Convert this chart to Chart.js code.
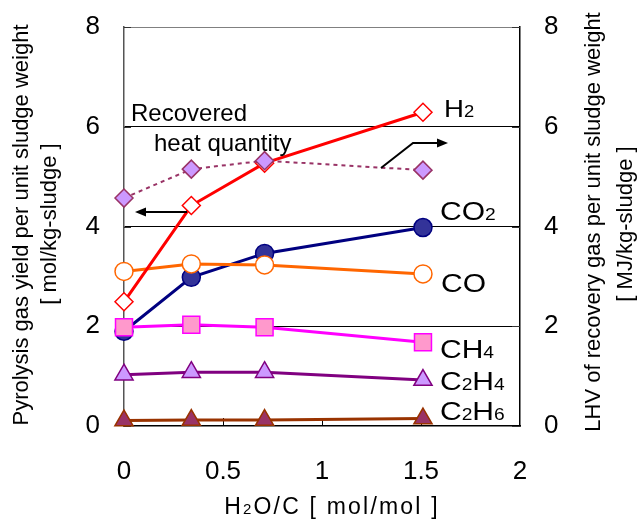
<!DOCTYPE html>
<html>
<head>
<meta charset="utf-8">
<script src="https://cdn.jsdelivr.net/npm/chart.js@4.4.1/dist/chart.umd.min.js"></script>
<style>
  body { margin: 0; background: #fff; }
  #wrap { width: 637px; height: 524px; }
</style>
</head>
<body>
<div id="wrap"><canvas id="gasChart" width="637" height="524"></canvas></div>
<script>
// H2O/C ratio (mol/mol)
const ratio = [0, 0.34, 0.71, 1.51]
// gas yields, mol/kg-sludge (left axis)
const h2   = [2.49, 4.42, 5.27, 6.29]
const co2  = [1.90, 2.98, 3.46, 3.98]
const co   = [3.10, 3.25, 3.23, 3.05]
const ch4  = [1.98, 2.03, 1.98, 1.68]
const c2h4 = [1.03, 1.08, 1.08, 0.92]
const c2h6 = [0.11, 0.12, 0.12, 0.15]
// recovered heat, MJ/kg-sludge (right axis)
const heat = [4.57, 5.15, 5.32, 5.13]

const yTicks = [0, 2, 4, 6, 8]
const xTicks = [0, 0.5, 1, 1.5, 2]

function pts(vals) {
  return vals.map((v, i) => ({ x: ratio[i], y: v }))
}

function series(label, vals, opt) {
  return Object.assign({
    label: label,
    data: pts(vals),
    showLine: true,
    tension: 0,
    borderWidth: 3,
    pointBorderWidth: 1.5,
    pointRadius: 9,
    pointHoverRadius: 9,
    clip: false
  }, opt)
}

const datasets = [
  series('heat', heat, {
    yAxisID: 'y2', borderColor: '#993366', borderWidth: 2, borderDash: [4, 4],
    pointStyle: 'rectRot', pointRadius: 9, pointBackgroundColor: '#CC99FF', pointBorderColor: '#993366'
  }),
  series('CH4', ch4, {
    borderColor: '#FF00FF', pointStyle: 'rect', pointRadius: 12,
    pointBackgroundColor: '#FF99CC', pointBorderColor: '#FF00FF'
  }),
  series('H2', h2, {
    borderColor: '#FF0000', pointStyle: 'rectRot', pointRadius: 9,
    pointBackgroundColor: '#FFFFFF', pointBorderColor: '#FF0000'
  }),
  series('CO', co, {
    borderColor: '#FF6600', pointStyle: 'circle',
    pointBackgroundColor: '#FFFFFF', pointBorderColor: '#FF6600'
  }),
  series('CO2', co2, {
    borderColor: '#000080', pointStyle: 'circle',
    pointBackgroundColor: '#333399', pointBorderColor: '#000080'
  }),
  series('C2H4', c2h4, {
    borderColor: '#800080', pointStyle: 'triangle', pointRadius: 10.5,
    pointBackgroundColor: '#CC99FF', pointBorderColor: '#800080'
  }),
  series('C2H6', c2h6, {
    borderColor: '#993300', pointStyle: 'triangle', pointRadius: 10.5,
    pointBackgroundColor: '#993366', pointBorderColor: '#993300'
  })
]

const FONT = "'Liberation Sans', Arial, sans-serif"

// text with subscripts: parts like ['H', '2'] -> big, small, big...
// sx stretches the text sideways like the original
function chemText(ctx, parts, x, y, big, small, sx) {
  ctx.save()
  ctx.translate(x, y)
  ctx.scale(sx, 1)
  let cx = 0
  parts.forEach((p, i) => {
    ctx.font = (i % 2 == 0 ? big : small) + 'px ' + FONT
    ctx.fillText(p, cx, 0)
    cx += ctx.measureText(p).width
  })
  ctx.restore()
}

function arrowHead(ctx, x, y, dir) {
  ctx.beginPath()
  ctx.moveTo(x, y)
  ctx.lineTo(x - dir * 11, y - 4.5)
  ctx.lineTo(x - dir * 11, y + 4.5)
  ctx.closePath()
  ctx.fill()
}

const extras = {
  id: 'extras',
  beforeDatasetsDraw(chart) {
    const ctx = chart.ctx
    const xs = chart.scales.x, ys = chart.scales.y, y2 = chart.scales.y2
    const area = chart.chartArea
    ctx.save()
    ctx.strokeStyle = '#000'
    ctx.lineWidth = 1
    // inward tick marks
    xTicks.slice(1, -1).forEach(v => {
      const px = Math.round(xs.getPixelForValue(v)) + 0.5
      ctx.beginPath(); ctx.moveTo(px, area.bottom); ctx.lineTo(px, area.bottom - 8); ctx.stroke()
    })
    ctx.strokeStyle = '#333'
    yTicks.forEach(v => {
      const py = Math.round(ys.getPixelForValue(v)) + 0.5
      ctx.beginPath(); ctx.moveTo(area.left, py); ctx.lineTo(area.left + 7, py); ctx.stroke()
      const py2 = Math.round(y2.getPixelForValue(v)) + 0.5
      ctx.beginPath(); ctx.moveTo(area.right, py2); ctx.lineTo(area.right - 8, py2); ctx.stroke()
    })
    ctx.restore()
  },
  afterDraw(chart) {
    const ctx = chart.ctx
    ctx.save()
    ctx.fillStyle = '#000'
    ctx.textBaseline = 'alphabetic'
    ctx.textAlign = 'left'

    // series labels
    chemText(ctx, ['H', '2'], 444, 117, 24, 16, 1.15)
    chemText(ctx, ['CO', '2'], 440, 220, 25, 16, 1.2)
    chemText(ctx, ['CO'], 441, 292, 25, 16, 1.2)
    chemText(ctx, ['CH', '4'], 440, 358, 25, 16, 1.2)
    chemText(ctx, ['C', '2', 'H', '4'], 440, 390, 25, 16, 1.2)
    chemText(ctx, ['C', '2', 'H', '6'], 440, 420, 25, 16, 1.2)

    // annotation
    ctx.font = '24px ' + FONT
    ctx.fillText('Recovered', 131, 121)
    ctx.fillText('heat quantity', 154, 151)

    ctx.strokeStyle = '#000'
    ctx.lineWidth = 2
    ctx.beginPath(); ctx.moveTo(187, 212); ctx.lineTo(142, 212); ctx.stroke()
    arrowHead(ctx, 135, 212, -1)
    ctx.beginPath(); ctx.moveTo(381, 168); ctx.lineTo(413, 143); ctx.lineTo(440, 143); ctx.stroke()
    arrowHead(ctx, 448, 143, 1)

    // axis titles
    ctx.textAlign = 'center'
    ctx.textBaseline = 'middle'
    ctx.font = '22px ' + FONT
    ctx.save()
    ctx.translate(22, 225); ctx.rotate(-Math.PI / 2)
    ctx.fillText('Pyrolysis gas yield per unit sludge weight', 0, 0)
    ctx.restore()
    ctx.save()
    ctx.translate(50, 224); ctx.rotate(-Math.PI / 2)
    ctx.fillText('[ mol/kg-sludge ]', 0, 0)
    ctx.restore()
    ctx.save()
    ctx.translate(594, 222); ctx.rotate(-Math.PI / 2)
    ctx.fillText('LHV of recovery gas per unit sludge weight', 0, 0)
    ctx.restore()
    ctx.save()
    ctx.translate(626, 224); ctx.rotate(-Math.PI / 2)
    ctx.fillText('[ MJ/kg-sludge ]', 0, 0)
    ctx.restore()

    // x title with subscript
    ctx.textAlign = 'left'
    ctx.textBaseline = 'alphabetic'
    ctx.letterSpacing = '2.2px'
    const parts = ['H', '2', 'O/C [ mol/mol ]']
    const size = i => (i == 1 ? '15px ' : '23px ') + FONT
    let w = 0
    parts.forEach((p, i) => { ctx.font = size(i); w += ctx.measureText(p).width })
    let cx = 332 - w / 2
    parts.forEach((p, i) => {
      ctx.font = size(i)
      ctx.fillText(p, cx, 514)
      cx += ctx.measureText(p).width
    })
    ctx.restore()
  }
}

new Chart(document.getElementById('gasChart'), {
  type: 'scatter',
  data: { datasets: datasets },
  options: {
    responsive: false,
    animation: false,
    devicePixelRatio: 1,
    layout: { padding: { top: 27, left: 0, right: 0, bottom: 0 } },
    plugins: { legend: { display: false }, tooltip: { enabled: false } },
    scales: {
      x: {
        type: 'linear', min: 0, max: 2,
        afterFit: s => { s.height = 98 },
        afterBuildTicks: s => { s.ticks = xTicks.map(v => ({ value: v })) },
        grid: { display: false, drawTicks: false },
        border: { display: true, color: '#000', width: 1.5 },
        ticks: { padding: 30, color: '#000', font: { family: FONT, size: 26 }, callback: v => String(v) }
      },
      y: {
        position: 'left', min: 0, max: 8,
        afterFit: s => { s.width = 124 },
        afterBuildTicks: s => { s.ticks = yTicks.map(v => ({ value: v })) },
        grid: {
          drawTicks: true, tickLength: 24, tickColor: 'rgba(0,0,0,0)', lineWidth: 1,
          color: c => (c.tick.value == 8 ? '#808080' : (c.tick.value == 0 ? 'rgba(0,0,0,0)' : '#000'))
        },
        border: { display: true, color: '#555', width: 1.5 },
        ticks: { padding: 0, color: '#000', font: { family: FONT, size: 26 } }
      },
      y2: {
        position: 'right', min: 0, max: 8,
        afterFit: s => { s.width = 117 },
        afterBuildTicks: s => { s.ticks = yTicks.map(v => ({ value: v })) },
        grid: { drawOnChartArea: false, drawTicks: true, tickLength: 24, tickColor: 'rgba(0,0,0,0)' },
        border: { display: true, color: '#000', width: 1.5 },
        ticks: { padding: 0, color: '#000', font: { family: FONT, size: 26 } }
      }
    }
  },
  plugins: [extras]
})
</script>
</body>
</html>
